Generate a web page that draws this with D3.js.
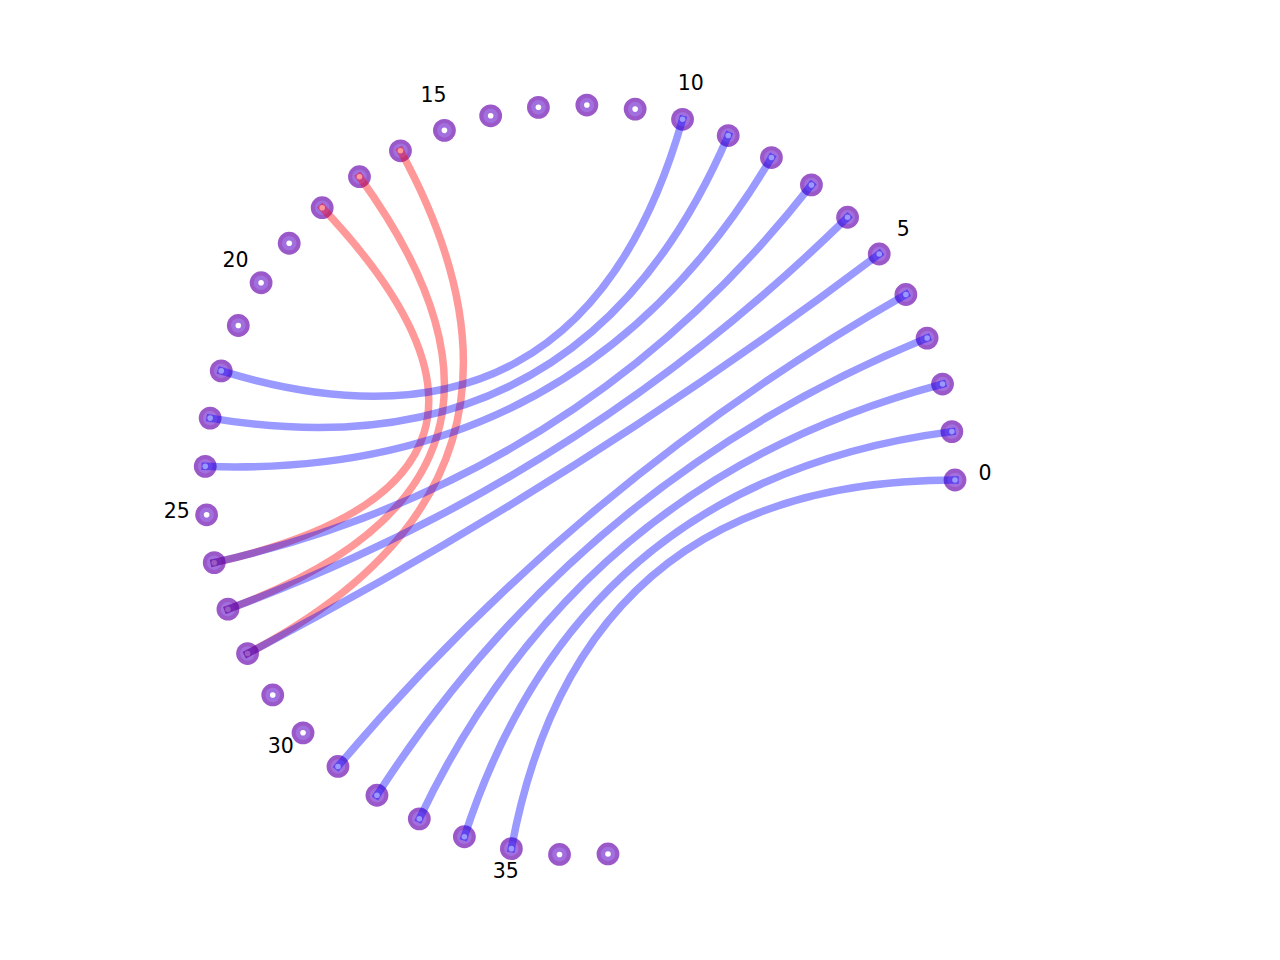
<!DOCTYPE html>
<html>
<head>
<meta charset="utf-8">
<script src="https://cdn.jsdelivr.net/npm/d3@7"></script>
<style>
  html, body { margin: 0; padding: 0; background: #ffffff; }
  svg { display: block; }
</style>
</head>
<body>
<svg id="chart" width="1280" height="960"></svg>
<script>
// ---- data ----
const nodeIds = [0,1,2,3,4,5,6,7,8,9,10,11,12,13,14,15,16,17,18,19,20,21,22,23,24,25,26,27,28,29,30,31,32,33,34,35,36,37];
const tickNodes = [0, 5, 10, 15, 20, 25, 30, 35];
const tickLabels = ["0", "5", "10", "15", "20", "25", "30", "35"];
const blueSources = [0, 1, 2, 3, 4, 5, 6, 7, 8, 9, 10];
const blueTargets = [35, 34, 33, 32, 31, 28, 27, 26, 24, 23, 22];
const redSources = [16, 17, 18];
const redTargets = [28, 27, 26];

// ---- layout ----
const cx = 580, cy = 480, R = 375, labelR = 405;
const stepDeg = 7.413;
const angle = d3.scaleLinear()
  .domain([0, 1])
  .range([0, stepDeg * Math.PI / 180]);
const px = (i, r) => cx + r * Math.cos(angle(i));
const py = (i, r) => cy - r * Math.sin(angle(i));

const svg = d3.select("#chart");

// nodes
const gNodes = svg.append("g");
const ng = gNodes.selectAll("g").data(nodeIds).join("g")
  .attr("transform", d => `translate(${px(d, R)},${py(d, R)})`);
ng.append("circle").attr("r", 11.4).attr("fill", "#9a58c8");
ng.append("circle").attr("r", 7.3).attr("fill", "#a26fdf");
ng.append("circle").attr("r", 2.8).attr("fill", "#ffffff");

function chord(s, t) {
  const p = d3.path();
  p.moveTo(px(s, R), py(s, R));
  p.quadraticCurveTo(cx, cy, px(t, R), py(t, R));
  return p.toString();
}

// red edges (beneath)
const redEdges = redSources.map((s, i) => ({ s, t: redTargets[i] }));
svg.append("g").selectAll("path").data(redEdges).join("path")
  .attr("d", d => chord(d.s, d.t))
  .attr("fill", "none")
  .attr("stroke", "red")
  .attr("stroke-opacity", 0.4)
  .attr("stroke-width", 7.5)
  .attr("stroke-linecap", "square");

// blue edges
const blueEdges = blueSources.map((s, i) => ({ s, t: blueTargets[i] }));
svg.append("g").selectAll("path").data(blueEdges).join("path")
  .attr("d", d => chord(d.s, d.t))
  .attr("fill", "none")
  .attr("stroke", "blue")
  .attr("stroke-opacity", 0.4)
  .attr("stroke-width", 7.5)
  .attr("stroke-linecap", "square");

// labels
svg.append("g").selectAll("text").data(tickNodes).join("text")
  .attr("x", d => px(d, labelR))
  .attr("y", d => py(d, labelR))
  .attr("text-anchor", "middle")
  .attr("font-family", "DejaVu Sans, sans-serif")
  .attr("font-size", 20.5)
  .attr("fill", "#000000")
  .text((d, i) => tickLabels[i]);
</script>
</body>
</html>
